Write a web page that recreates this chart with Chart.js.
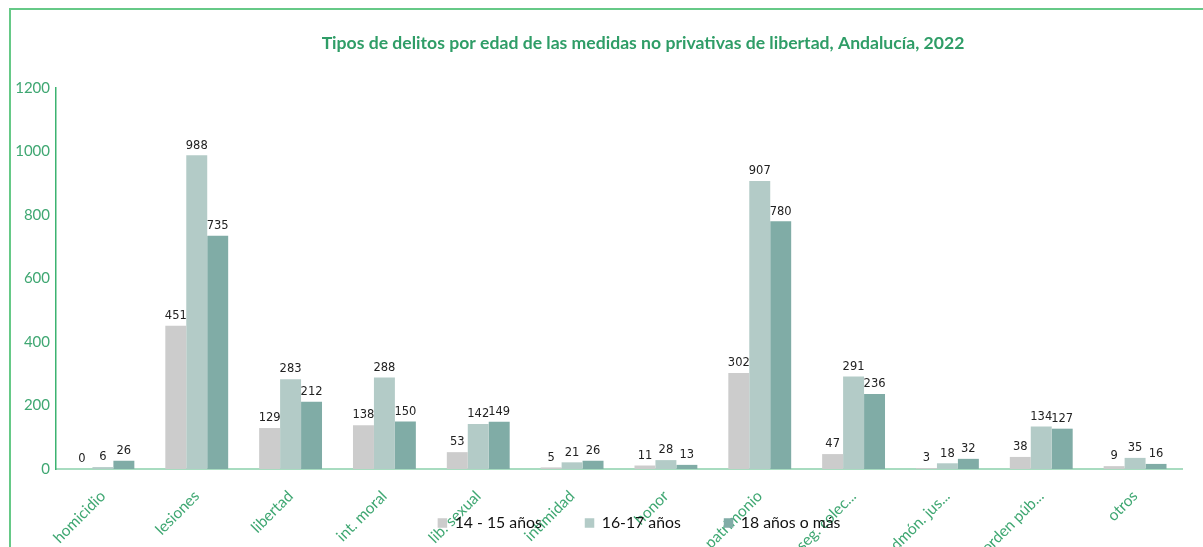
<!DOCTYPE html>
<html lang="es">
<head>
<meta charset="utf-8">
<title>Tipos de delitos por edad</title>
<script src="https://cdn.jsdelivr.net/npm/chart.js@4.4.1/dist/chart.umd.min.js"></script>
<style>
  html, body { margin: 0; padding: 0; overflow: hidden; background: #fff; }
  #contenedor { position: relative; width: 1203px; height: 590px; }
  #marco { position: absolute; left: 9px; top: 8px; width: 1300px; height: 700px;
           border-left: 2px solid #66c987; border-top: 2px solid #66c987; pointer-events: none; }
</style>
</head>
<body>
<div id="contenedor">
  <canvas id="grafico"></canvas>
  <div id="marco"></div>
</div>
<script>
// Datos
const categorias = ['homicidio', 'lesiones', 'libertad', 'int. moral', 'lib. sexual', 'intimidad',
                    'honor', 'patrimonio', 'seg. colec...', 'admón. jus...', 'orden púb...', 'otros'];
const edad14_15 = [0, 451, 129, 138, 53, 5, 11, 302, 47, 3, 38, 9];
const edad16_17 = [6, 988, 283, 288, 142, 21, 28, 907, 291, 18, 134, 35];
const edad18mas = [26, 735, 212, 150, 149, 26, 13, 780, 236, 32, 127, 16];
const series = ['14 - 15 años', '16-17 años', '18 años o más'];
const colores = ['#cccccc', '#b3cbc7', '#80aca6'];
const titulo = 'Tipos de delitos por edad de las medidas no privativas de libertad, Andalucía, 2022';

const verde = '#3fa772';

// Titulo dibujado a mano (en el original no esta centrado sobre el lienzo)
const tituloArriba = {
  id: 'tituloArriba',
  afterDraw(chart) {
    const ctx = chart.ctx;
    ctx.save();
    ctx.font = 'bold 17.6px Lato';
    ctx.fillStyle = '#2f9d67';
    ctx.textAlign = 'center';
    ctx.textBaseline = 'middle';
    ctx.fillText(titulo, 643, 43);
    ctx.restore();
  }
};

// Etiquetas con el valor encima de cada barra
const etiquetasValor = {
  id: 'etiquetasValor',
  afterDatasetsDraw(chart) {
    const ctx = chart.ctx;
    ctx.save();
    ctx.font = '11.5px "DejaVu Sans"';
    ctx.fillStyle = '#222';
    ctx.textAlign = 'center';
    ctx.textBaseline = 'bottom';
    chart.data.datasets.forEach((ds, i) => {
      chart.getDatasetMeta(i).data.forEach((barra, j) => {
        ctx.fillText(ds.data[j], barra.x, barra.y - 4);
      });
    });
    ctx.restore();
  }
};

// Leyenda dibujada a mano (queda encima de las etiquetas del eje, como en el original)
const leyendaAbajo = {
  id: 'leyendaAbajo',
  afterDraw(chart) {
    const ctx = chart.ctx;
    ctx.save();
    ctx.font = '15.8px Lato';
    ctx.textBaseline = 'middle';
    ctx.textAlign = 'left';
    const anchos = series.map(s => 17 + ctx.measureText(s).width);
    const hueco = 43;
    const total = anchos.reduce((a, b) => a + b, 0) + hueco * (series.length - 1);
    let x = 639 - total / 2;
    const y = 523;
    series.forEach((s, i) => {
      ctx.fillStyle = colores[i];
      ctx.fillRect(x, y - 4.75, 9.5, 9.5);
      ctx.fillStyle = '#111';
      ctx.fillText(s, x + 17, y);
      x += anchos[i] + hueco;
    });
    ctx.restore();
  }
};

function generarGrafico() {
  const ctx = document.getElementById('grafico').getContext('2d');
  const valores = [edad14_15, edad16_17, edad18mas];

  new Chart(ctx, {
    type: 'bar',
    data: {
      labels: categorias,
      datasets: series.map((s, i) => ({
        label: s,
        data: valores[i],
        backgroundColor: colores[i],
        borderWidth: 0,
        categoryPercentage: 0.67,
        barPercentage: 1.0
      }))
    },
    options: {
      responsive: true,
      maintainAspectRatio: false,
      animation: false,
      layout: { padding: { left: 0, right: 21, top: 88, bottom: 0 } },
      plugins: {
        legend: { display: false },
        tooltip: { enabled: false },
        title: { display: false }
      },
      scales: {
        x: {
          grid: { display: false },
          border: { display: true, color: '#a8dcc0', width: 2 },
          ticks: {
            color: verde,
            font: { family: 'Lato', size: 15.5 },
            minRotation: 45,
            maxRotation: 45,
            autoSkip: false,
            padding: 10
          },
          afterFit(scale) { scale.height = 121; }
        },
        y: {
          min: 0,
          max: 1200,
          grid: { display: false, drawTicks: false },
          border: { display: true, color: '#3cb371', width: 1.5 },
          ticks: {
            stepSize: 200,
            color: verde,
            font: { family: 'Lato', size: 15 },
            padding: 6,
            callback: (valor) => String(valor)
          },
          afterFit(scale) { scale.width = 56; }
        }
      }
    },
    plugins: [etiquetasValor, tituloArriba, leyendaAbajo]
  });
}

generarGrafico();
</script>
</body>
</html>
